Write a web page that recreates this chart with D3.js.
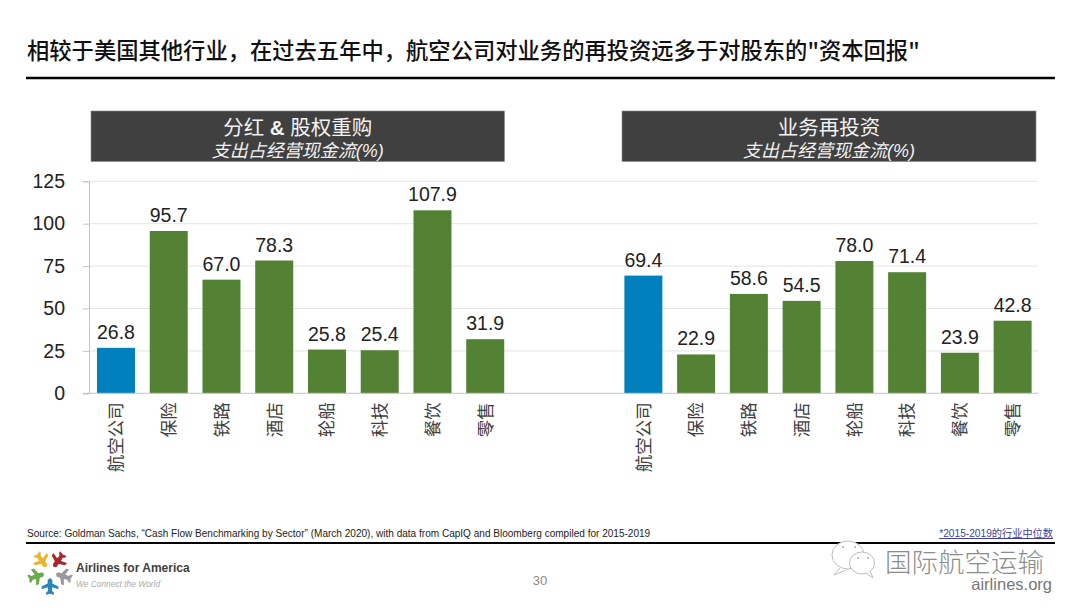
<!doctype html>
<html>
<head>
<meta charset="utf-8">
<title>航空公司资本回报与业务再投资</title>
<script src="https://cdn.jsdelivr.net/npm/d3@7"></script>
<style>
  html, body { margin: 0; padding: 0; background: #fff; }
  svg { display: block; }
  text { font-family: "Liberation Sans", "Noto Sans CJK SC", sans-serif; }
  .cjk { font-family: "Noto Sans CJK SC", sans-serif; }
</style>
</head>
<body>
<div id="chart"></div>
<script>
// data
var categories = ["航空公司", "保险", "铁路", "酒店", "轮船", "科技", "餐饮", "零售"];
var payoutValues = [26.8, 95.7, 67.0, 78.3, 25.8, 25.4, 107.9, 31.9];
var reinvestValues = [69.4, 22.9, 58.6, 54.5, 78.0, 71.4, 23.9, 42.8];
var yTicks = [0, 25, 50, 75, 100, 125];

var titleText = '相较于美国其他行业，在过去五年中，航空公司对业务的再投资远多于对股东的"资本回报"';
var panelTitles = ["分红 & 股权重购", "业务再投资"];
var panelSubtitle = "支出占经营现金流(%)";
var sourceText = "Source: Goldman Sachs, “Cash Flow Benchmarking by Sector” (March 2020), with data from CapIQ and Bloomberg compiled for 2015-2019";
var noteText = "*2015-2019的行业中位数";
var logoColors = ["#e9b52f", "#a8282f", "#9a9a9a", "#2a86b8", "#6aaa4f"];

var width = 1080, height = 608;
var svg = d3.select("#chart").append("svg").attr("width", width).attr("height", height);

// title + rule
svg.append("text").attr("class", "cjk").attr("x", 27).attr("y", 59)
  .attr("font-size", 22.3).attr("font-weight", 500).attr("fill", "#111").text(titleText);
svg.append("line").attr("x1", 26).attr("x2", 1055).attr("y1", 78).attr("y2", 78)
  .attr("stroke", "#000").attr("stroke-width", 2.5);

var y = d3.scaleLinear().domain([0, 125]).range([393.3, 181.3]);

// light gridlines + y axis
svg.append("g").selectAll("line").data(yTicks.slice(1)).join("line")
  .attr("x1", 89).attr("x2", 1038)
  .attr("y1", function(d) { return y(d); }).attr("y2", function(d) { return y(d); })
  .attr("stroke", "#e4e4e4");

var yAxis = svg.append("g").attr("transform", "translate(89,0)")
  .call(d3.axisLeft(y).tickValues(yTicks).tickSize(6).tickPadding(18));
yAxis.selectAll("text").attr("font-size", 19.5).attr("fill", "#222")
  .style("font-family", '"Liberation Sans"');
yAxis.selectAll("line").attr("stroke", "#c4c4c4");
yAxis.select(".domain").attr("stroke", "#c4c4c4");

function drawPanel(values, left, boxX, boxW, heading) {
  var x = d3.scaleBand().domain(categories)
    .range([left, left + 8 * 52.75]).paddingInner(0.28).paddingOuter(0.14);

  // header box
  svg.append("rect").attr("x", boxX).attr("y", 111).attr("width", boxW).attr("height", 50.5)
    .attr("fill", "#404040").attr("stroke", "#8a8a8a").attr("stroke-width", 0.6);
  var head = svg.append("text").attr("x", boxX + boxW / 2).attr("y", 134.5)
    .attr("text-anchor", "middle").attr("font-size", 20.5).attr("fill", "#f2f2f2");
  // the ampersand is bold in the original
  heading.split("&").forEach(function(part, i) {
    if (i > 0) head.append("tspan").attr("font-weight", 700).text("&");
    head.append("tspan").attr("xml:space", "preserve").style("white-space", "pre").text(part);
  });
  svg.append("text").attr("x", boxX + boxW / 2).attr("y", 157)
    .attr("text-anchor", "middle").attr("font-size", 18).attr("font-style", "italic")
    .attr("fill", "#f2f2f2").text(panelSubtitle);

  svg.append("g").selectAll("rect").data(values).join("rect")
    .attr("x", function(d, i) { return x(categories[i]); })
    .attr("y", function(d) { return y(d); })
    .attr("width", x.bandwidth())
    .attr("height", function(d) { return y(0) - y(d); })
    .attr("fill", function(d, i) { return i == 0 ? "#0080bc" : "#548235"; });

  svg.append("g").selectAll("text").data(values).join("text")
    .attr("x", function(d, i) { return x(categories[i]) + x.bandwidth() / 2; })
    .attr("y", function(d) { return y(d) - 9; })
    .attr("text-anchor", "middle").attr("font-size", 19.5).attr("fill", "#222")
    .text(function(d) { return d.toFixed(1); });

  // category labels, rotated
  var xAxis = svg.append("g").attr("transform", "translate(0," + y(0) + ")")
    .call(d3.axisBottom(x).tickSize(0));
  xAxis.select(".domain").remove();
  xAxis.selectAll("text")
    .attr("class", "cjk").style("font-family", '"Noto Sans CJK SC"')
    .attr("font-size", 17.5).attr("fill", "#404040")
    .attr("text-anchor", "end")
    .attr("transform", "rotate(-90)")
    .attr("x", -9).attr("y", 0).attr("dy", "0.36em");
}

drawPanel(payoutValues, 89.6, 91, 413.5, panelTitles[0]);
drawPanel(reinvestValues, 617, 622, 414, panelTitles[1]);

// baseline over the bars
svg.append("line").attr("x1", 83).attr("x2", 1038).attr("y1", y(0)).attr("y2", y(0))
  .attr("stroke", "#c4c4c4");

// footer
svg.append("text").attr("x", 27).attr("y", 537).attr("font-size", 10.05).attr("fill", "#222").text(sourceText);
svg.append("text").attr("x", 1053).attr("y", 537).attr("text-anchor", "end")
  .attr("font-size", 10.2).attr("fill", "#3f3f9f").attr("text-decoration", "underline").text(noteText);
svg.append("line").attr("x1", 26).attr("x2", 1055).attr("y1", 543).attr("y2", 543)
  .attr("stroke", "#000").attr("stroke-width", 2.2);
svg.append("text").attr("x", 540).attr("y", 585).attr("text-anchor", "middle")
  .attr("font-size", 13).attr("fill", "#888").text("30");

// logo: five planes around a star
var planePath = "M0,-3 L2.4,-1 L2.4,2.5 L8.5,5.5 L8.5,8.5 L2.4,6.5 L2,10 L4,12 L4,14 L0,13 L-4,14 L-4,12 L-2,10 L-2.4,6.5 L-8.5,8.5 L-8.5,5.5 L-2.4,2.5 L-2.4,-1 Z";
var logo = svg.append("g").attr("transform", "translate(50,572)");
logo.selectAll("path").data(logoColors).join("path")
  .attr("d", planePath)
  .attr("fill", function(d) { return d; })
  .attr("transform", function(d, i) { return "rotate(" + (-216 + i * 72) + ") translate(0,9) scale(0.98)"; });

svg.append("text").attr("x", 76).attr("y", 572).attr("font-size", 12).attr("font-weight", 700)
  .attr("fill", "#404040").text("Airlines for America");
svg.append("text").attr("x", 76).attr("y", 587).attr("font-size", 8.4).attr("font-style", "italic")
  .attr("fill", "#aaa").text("We Connect the World");

// watermark
var wm = svg.append("g").attr("fill", "#fff").attr("stroke", "#bdbdbd").attr("stroke-width", 1);
wm.append("ellipse").attr("cx", 848).attr("cy", 555).attr("rx", 16).attr("ry", 14);
wm.append("path").attr("d", "M840,568 L834,575 L846,570");
wm.append("ellipse").attr("cx", 862).attr("cy", 563).attr("rx", 12.5).attr("ry", 11);
wm.append("path").attr("d", "M866,573 L873,578 L870,571");
var wmEyes = svg.append("g").attr("fill", "#aaa");
wmEyes.append("circle").attr("cx", 843).attr("cy", 547).attr("r", 1);
wmEyes.append("circle").attr("cx", 855).attr("cy", 547).attr("r", 1);
wmEyes.append("circle").attr("cx", 858).attr("cy", 558).attr("r", 1);
wmEyes.append("circle").attr("cx", 868).attr("cy", 558).attr("r", 1);
svg.append("text").attr("x", 885).attr("y", 572).attr("font-size", 26.5)
  .attr("font-weight", 300).attr("fill", "#8c8c8c").text("国际航空运输");
svg.append("text").attr("x", 1052).attr("y", 590).attr("text-anchor", "end").attr("font-size", 16.5)
  .attr("fill", "#777").text("airlines.org");
</script>
</body>
</html>
